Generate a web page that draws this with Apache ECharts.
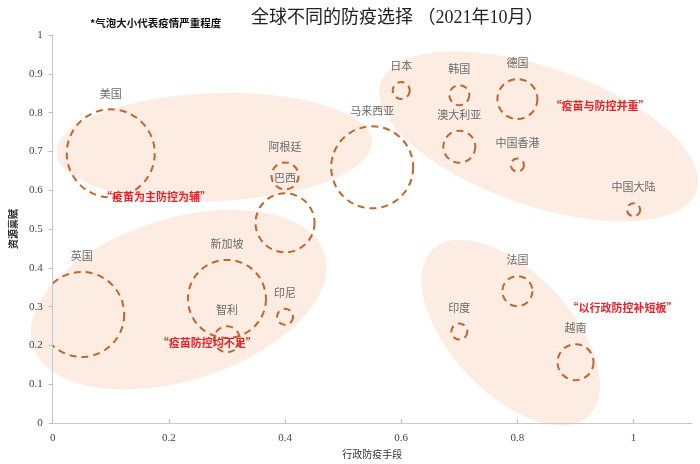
<!DOCTYPE html>
<html>
<head>
<meta charset="utf-8">
<script src="https://cdn.jsdelivr.net/npm/echarts@6/dist/echarts.min.js"></script>
<style>html,body{margin:0;padding:0;background:#fff}#c{width:700px;height:464px}</style>
</head>
<body>
<div id="c"></div>
<script>
// ---- data ----
const countries = ['美国','英国','新加坡','智利','印尼','阿根廷','巴西','马来西亚','日本','韩国','德国','澳大利亚','中国香港','中国大陆','法国','印度','越南'];
const adminMeasures = [0.10,0.05,0.30,0.30,0.40,0.40,0.40,0.55,0.60,0.70,0.80,0.70,0.80,1.00,0.80,0.70,0.90];
const resources     = [0.695,0.28,0.32,0.216,0.274,0.637,0.516,0.659,0.857,0.845,0.835,0.712,0.665,0.55,0.34,0.236,0.157];
const severity      = [88,85,78,26,16,27,59,82,17,20,40,32,13,13,30,16,36];
const xTicks = [0,0.2,0.4,0.6,0.8,1];
const groupNames = ['“疫苗为主防控为辅”','“疫苗与防控并重”','“疫苗防控均不足”','“以行政防控补短板”'];
const groupX = [0.178,0.942,0.266,0.981];
const groupY = [0.584,0.817,0.208,0.297];

// ---- decoration: background zones (centre in axis units, radii px, angle deg) ----
const zones = [
  [0.278,0.711,158,54,-2],
  [0.8366,0.7386,167,69,19],
  [0.2167,0.318,153,81,-17.5],
  [0.7885,0.233,114,60,47]
];

const serif = "'Liberation Serif','DejaVu Serif','Noto Sans CJK SC',serif";
const cjk = "'Noto Sans CJK SC',sans-serif";

const chart = echarts.init(document.getElementById('c'));
chart.setOption({
  animation:false,
  backgroundColor:'#fff',
  title:{
    text:'全球不同的防疫选择 （2021年10月）',
    left:246, top:4,
    textStyle:{fontSize:18, fontWeight:'normal', color:'#222', fontFamily:serif}
  },
  graphic:[{
    type:'text', left:90, top:18,
    style:{text:'*气泡大小代表疫情严重程度', font:"bold 10.5px 'Noto Sans CJK SC'", fill:'#111'}
  }],
  grid:{left:52.5, right:8.3, top:35, bottom:35},
  xAxis:{
    type:'value', min:0, max:1.1, interval:0.2, z:5,
    name:'行政防疫手段', nameLocation:'middle', nameGap:18,
    nameTextStyle:{fontSize:10, color:'#333', fontFamily:cjk},
    axisLine:{lineStyle:{color:'#c8c8c8'}},
    axisTick:{show:true, inside:true, length:4, lineStyle:{color:'#bbb'}, customValues:xTicks},
    axisLabel:{customValues:xTicks, margin:10, fontSize:11, color:'#444', fontFamily:serif},
    splitLine:{show:false}
  },
  yAxis:{
    type:'value', min:0, max:1, interval:0.1, z:5,
    name:'资源禀赋', nameLocation:'middle', nameGap:25, nameRotate:90,
    nameTextStyle:{fontSize:10, fontWeight:'bold', color:'#222', fontFamily:cjk},
    axisLine:{show:true, lineStyle:{color:'#c8c8c8'}},
    axisTick:{show:true, length:4, lineStyle:{color:'#bbb'}},
    axisLabel:{margin:10, fontSize:11, color:'#444', fontFamily:serif},
    splitLine:{show:false}
  },
  series:[
    {
      type:'custom', clip:false, z:1, silent:true,
      data: zones.map(z=>z),
      encode:{x:0,y:1},
      renderItem(params, api){
        const c = api.coord([api.value(0), api.value(1)]);
        const rx = api.value(2), ry = api.value(3), a = api.value(4)*Math.PI/180;
        const pts = [];
        for(let i=0;i<96;i++){
          const t = i/96*Math.PI*2;
          const ex = rx*Math.cos(t), ey = ry*Math.sin(t);
          pts.push([c[0]+ex*Math.cos(a)-ey*Math.sin(a), c[1]+ex*Math.sin(a)+ey*Math.cos(a)]);
        }
        return {type:'polygon', shape:{points:pts}, style:{fill:'#fcece2', stroke:'none'}};
      }
    },
    {
      type:'custom', clip:true, z:3, silent:true,
      data: countries.map((c,i)=>({name:c, value:[adminMeasures[i], resources[i], severity[i]]})),
      encode:{x:0,y:1},
      renderItem(params, api){
        const p = api.coord([api.value(0), api.value(1)]);
        const r = api.value(2)/2;
        return {type:'group', children:[
          {type:'circle', shape:{cx:p[0], cy:p[1], r:r},
           style:{fill:'none', stroke:'#c0662e', lineWidth:2, lineDash:[7,5]}},
          {type:'text', x:p[0], y:p[1]-r-16,
           style:{text:countries[params.dataIndex], align:'center', verticalAlign:'middle',
                  fontSize:11, fontFamily:cjk, fill:'#6a6a6a'}}
        ]};
      }
    },
    {
      type:'custom', clip:false, z:4, silent:true,
      data: groupNames.map((n,i)=>({name:n, value:[groupX[i], groupY[i]]})),
      encode:{x:0,y:1},
      renderItem(params, api){
        const p = api.coord([api.value(0), api.value(1)]);
        return {type:'text', x:p[0], y:p[1],
          style:{text:groupNames[params.dataIndex], align:'center', verticalAlign:'middle',
                 fontSize:11, fontWeight:'bold', fontFamily:cjk, fill:'#e8232b'}};
      }
    }
  ]
});
</script>
</body>
</html>
